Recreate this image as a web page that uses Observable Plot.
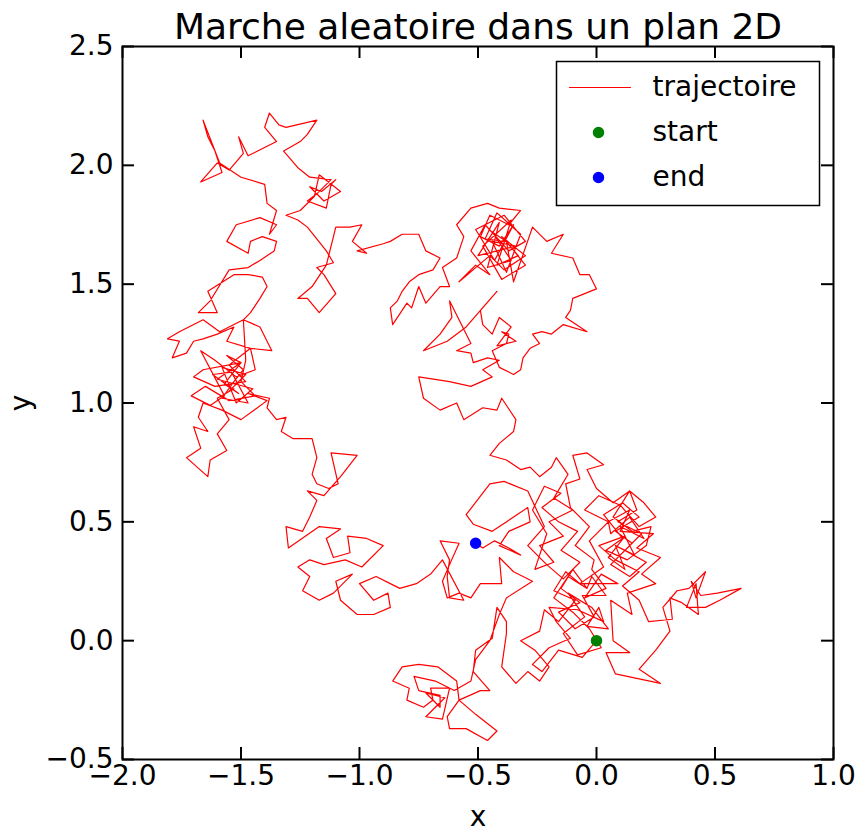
<!DOCTYPE html>
<html>
<head>
<meta charset="utf-8">
<script src="https://cdn.jsdelivr.net/npm/d3@7"></script>
<script src="https://cdn.jsdelivr.net/npm/@observablehq/plot@0.6"></script>
<style>
  body { margin: 0; background: #fff; }
</style>
</head>
<body>
<div id="chart"></div>
<script>
// Random walk, stored leg by leg; each leg continues where the previous one stops.
const legStart = [[0,0],[-0.06,-0.07],[-0.16,-0.04],[-0.23,-0.13],[-0.27,-0.10],[-0.20,-0.03],[-0.11,0.01],[-0.17,0.08],[-0.20,0.14],[-0.08,0.13],[0.03,0.08],[0.01,0.14],[-0.04,0.06],[0.05,0.05],[-0.02,0.14],[-0.12,0.20],[-0.05,0.10],[-0.14,0.03],[-0.08,-0.06],[0.02,-0.03],[-0.03,0.05],[-0.10,0.12],[-0.18,0.18],[-0.12,0.27],[-0.04,0.22],[-0.10,0.30],[-0.15,0.22],[-0.07,0.16],[-0.16,0.12],[-0.09,0.05],[-0.01,0.10],[-0.06,0.19],[0.04,0.19],[-0.02,0.27],[-0.04,0.22],[-0.07,0.24],[0.03,0.31],[-0.03,0.42],[0.05,0.50],[0.14,0.55],[0.10,0.46],[0.24,0.45],[0.17,0.39],[0.27,0.35],[0.19,0.28],[0.25,0.24],[0.13,0.20],[0.15,0.11],[0.06,0.17],[0.07,0.00],[0.14,-0.05],[0.04,-0.05],[0.08,-0.14],[0.27,-0.18],[0.18,-0.12],[0.25,-0.04],[0.31,0.04],[0.28,0.14]];
const legRightLobe = [[0.34,0.21],[0.39,0.22],[0.46,0.29],[0.42,0.18],[0.40,0.25],[0.44,0.19],[0.51,0.20],[0.61,0.22],[0.52,0.17],[0.46,0.14],[0.38,0.14],[0.42,0.24],[0.43,0.11],[0.36,0.16],[0.31,0.18],[0.32,0.09],[0.22,0.08],[0.18,0.17]];
const legRightCluster = [[0.11,0.23],[0.18,0.29],[0.08,0.34],[0.01,0.40],[0.12,0.44],[0.05,0.35],[0.12,0.30],[0.08,0.40],[0.16,0.36],[0.10,0.48],[0.20,0.43],[0.14,0.52],[0.06,0.45],[0.05,0.50],[-0.05,0.55],[0.01,0.61],[0.10,0.57],[0.18,0.48],[0.25,0.52],[0.20,0.58],[0.14,0.63],[0.17,0.55],[0.09,0.50],[0.19,0.45],[0.12,0.38],[0.21,0.33],[0.14,0.27],[0.06,0.32],[0.15,0.41],[0.08,0.46],[0.18,0.52],[0.11,0.58],[0.03,0.53],[0.11,0.43],[0.04,0.38],[0.13,0.34],[0.21,0.40],[0.23,0.48],[0.15,0.46],[0.07,0.52],[0.14,0.63],[0.07,0.58],[0.00,0.64],[-0.04,0.72],[0.03,0.74],[-0.04,0.79],[-0.10,0.78],[-0.07,0.68],[-0.13,0.66],[-0.11,0.56],[-0.03,0.48],[-0.09,0.40],[-0.01,0.34],[-0.02,0.30],[0.04,0.22],[-0.05,0.18],[0.02,0.28],[0.09,0.24],[-0.07,0.24],[-0.13,0.29],[-0.18,0.21],[-0.09,0.17],[-0.16,0.08],[-0.22,0.13],[-0.24,0.04],[-0.32,0.00],[-0.26,-0.04],[-0.20,-0.11],[-0.24,-0.17],[-0.29,-0.13],[-0.34,-0.18],[-0.40,-0.11]];
const legBottom = [[-0.38,0.03],[-0.38,0.08],[-0.42,0.14],[-0.44,0.01],[-0.51,-0.04],[-0.52,-0.13],[-0.45,-0.21],[-0.49,-0.21],[-0.58,-0.25],[-0.51,-0.31],[-0.42,-0.38],[-0.46,-0.42],[-0.55,-0.37],[-0.62,-0.37],[-0.63,-0.32],[-0.58,-0.25],[-0.59,-0.17],[-0.67,-0.11],[-0.75,-0.10],[-0.82,-0.11],[-0.86,-0.17],[-0.79,-0.20],[-0.80,-0.25],[-0.73,-0.28],[-0.69,-0.25],[-0.70,-0.20],[-0.62,-0.20],[-0.65,-0.33],[-0.72,-0.32],[-0.70,-0.30],[-0.64,-0.24],[-0.72,-0.22],[-0.66,-0.28],[-0.66,-0.23],[-0.75,-0.21],[-0.77,-0.15],[-0.68,-0.17],[-0.60,-0.21],[-0.53,-0.17],[-0.51,-0.08],[-0.45,0.00],[-0.41,0.11],[-0.38,0.18]];
const legMiddle = [[-0.27,0.25],[-0.35,0.29],[-0.41,0.35],[-0.40,0.24],[-0.49,0.24],[-0.53,0.18],[-0.58,0.20],[-0.63,0.18],[-0.65,0.25],[-0.62,0.32],[-0.58,0.41],[-0.66,0.42],[-0.62,0.34],[-0.63,0.27],[-0.62,0.18],[-0.56,0.17],[-0.65,0.34],[-0.70,0.28],[-0.76,0.24],[-0.83,0.22],[-0.87,0.24],[-0.93,0.27],[-1.00,0.24],[-0.94,0.17],[-0.88,0.20],[-0.87,0.14],[-0.94,0.11],[-1.01,0.11],[-1.08,0.17],[-1.10,0.25],[-1.03,0.28],[-1.11,0.20],[-1.17,0.17],[-1.24,0.21],[-1.21,0.27],[-1.26,0.31],[-1.21,0.34],[-1.15,0.32],[-1.06,0.34],[-0.99,0.31],[-0.90,0.40],[-0.97,0.43],[-1.05,0.44],[-1.04,0.37],[-1.11,0.35],[-1.14,0.43],[-1.08,0.47],[-1.17,0.48],[-1.30,0.39],[-1.31,0.48],[-1.24,0.46],[-1.21,0.52],[-1.18,0.59],[-1.22,0.63],[-1.15,0.61],[-1.08,0.69],[-1.01,0.78],[-1.12,0.79],[-1.09,0.66],[-1.13,0.64],[-1.18,0.66],[-1.20,0.70],[-1.18,0.77],[-1.20,0.85],[-1.28,0.85],[-1.33,0.88],[-1.31,0.94],[-1.35,0.93],[-1.39,0.98]];
const legLeftCluster = [[-1.38,1.02],[-1.47,1.04],[-1.39,1.01],[-1.50,0.93],[-1.58,0.97],[-1.66,1.00],[-1.68,0.94],[-1.64,0.88],[-1.70,0.90],[-1.67,0.81],[-1.73,0.77],[-1.64,0.69],[-1.63,0.76],[-1.56,0.80],[-1.60,0.87],[-1.55,0.93],[-1.60,1.02],[-1.53,1.06],[-1.55,1.05],[-1.48,1.12],[-1.58,1.15],[-1.52,1.00],[-1.45,1.06],[-1.60,1.10],[-1.50,1.17],[-1.57,1.08],[-1.51,1.04],[-1.62,1.12],[-1.54,1.13],[-1.47,1.00],[-1.58,1.02],[-1.53,1.09],[-1.49,1.14],[-1.56,1.20],[-1.50,1.17],[-1.66,1.14],[-1.70,1.11],[-1.61,1.07],[-1.48,1.09],[-1.55,1.16],[-1.46,1.23],[-1.56,1.26],[-1.53,1.32],[-1.60,1.29],[-1.66,1.27],[-1.70,1.26],[-1.73,1.21],[-1.79,1.19],[-1.76,1.26],[-1.81,1.27],[-1.76,1.30],[-1.66,1.35],[-1.59,1.30],[-1.49,1.35],[-1.42,1.32],[-1.37,1.22],[-1.46,1.23],[-1.44,1.14],[-1.52,1.11],[-1.61,1.18],[-1.67,1.22],[-1.57,1.03],[-1.63,0.99],[-1.71,1.03],[-1.65,1.07],[-1.55,1.01],[-1.44,1.03],[-1.50,1.09],[-1.48,1.18],[-1.49,1.35]];
const legTopLeft = [[-1.46,1.38],[-1.42,1.44],[-1.39,1.49],[-1.41,1.53],[-1.47,1.54],[-1.53,1.54],[-1.64,1.47],[-1.60,1.38],[-1.68,1.38],[-1.63,1.43],[-1.55,1.56],[-1.47,1.57],[-1.42,1.60],[-1.36,1.64],[-1.35,1.68],[-1.41,1.70],[-1.46,1.68],[-1.47,1.63],[-1.56,1.68],[-1.52,1.75],[-1.42,1.78],[-1.35,1.75],[-1.38,1.71],[-1.35,1.81],[-1.39,1.84],[-1.40,1.92],[-1.50,1.95],[-1.59,2.01],[-1.66,2.19],[-1.64,2.12],[-1.61,2.06],[-1.58,1.97],[-1.67,1.93],[-1.60,2.01],[-1.55,1.98],[-1.49,2.05],[-1.51,2.12],[-1.47,2.04],[-1.43,2.06],[-1.35,2.10],[-1.40,2.16],[-1.38,2.22],[-1.34,2.17],[-1.31,2.16],[-1.18,2.19],[-1.22,2.13],[-1.25,2.10],[-1.32,2.06],[-1.26,1.99],[-1.21,1.95],[-1.12,1.94],[-1.18,1.88],[-1.22,1.85],[-1.14,1.82],[-1.12,1.92],[-1.10,1.94],[-1.16,1.89],[-1.21,1.91],[-1.15,1.85],[-1.08,1.89],[-1.17,1.96],[-1.19,1.87],[-1.25,1.81],[-1.31,1.79],[-1.26,1.77],[-1.22,1.74],[-1.14,1.64],[-1.11,1.59],[-1.18,1.57],[-1.15,1.54],[-1.10,1.46],[-1.17,1.38],[-1.22,1.44],[-1.26,1.44],[-1.20,1.49],[-1.14,1.58],[-1.10,1.74],[-1.04,1.74],[-0.99,1.75],[-1.03,1.68],[-0.97,1.63],[-1.01,1.64],[-0.90,1.67],[-0.87,1.68],[-0.82,1.71],[-0.75,1.71]];
const legTopCenter = [[-0.72,1.64],[-0.66,1.61],[-0.69,1.56],[-0.75,1.54],[-0.79,1.51],[-0.82,1.47],[-0.84,1.43],[-0.87,1.40],[-0.86,1.33],[-0.80,1.42],[-0.78,1.40],[-0.75,1.49],[-0.72,1.42],[-0.66,1.49],[-0.62,1.49],[-0.65,1.57],[-0.59,1.61],[-0.56,1.70],[-0.59,1.75],[-0.53,1.82],[-0.46,1.84],[-0.41,1.82],[-0.32,1.81],[-0.37,1.75],[-0.45,1.79],[-0.49,1.70],[-0.41,1.66],[-0.35,1.75],[-0.43,1.60],[-0.51,1.73],[-0.39,1.79],[-0.30,1.68],[-0.37,1.64],[-0.47,1.75],[-0.53,1.64],[-0.45,1.54],[-0.51,1.58],[-0.58,1.51],[-0.45,1.62],[-0.39,1.56],[-0.30,1.62],[-0.40,1.70],[-0.33,1.62],[-0.42,1.58],[-0.36,1.77],[-0.48,1.66],[-0.40,1.52],[-0.30,1.58],[-0.38,1.68],[-0.44,1.72],[-0.36,1.60],[-0.46,1.57],[-0.41,1.76],[-0.50,1.62],[-0.34,1.66],[-0.44,1.68],[-0.38,1.55],[-0.32,1.71],[-0.42,1.80],[-0.47,1.69],[-0.38,1.68],[-0.35,1.51],[-0.27,1.74],[-0.21,1.68],[-0.14,1.71],[-0.19,1.63],[-0.10,1.61],[-0.07,1.54],[-0.03,1.54],[0.00,1.48],[-0.10,1.44],[-0.11,1.39],[-0.13,1.36],[-0.04,1.30],[-0.14,1.33],[-0.19,1.29],[-0.23,1.30],[-0.27,1.29],[-0.24,1.25],[-0.28,1.23],[-0.31,1.19],[-0.32,1.14],[-0.35,1.12],[-0.41,1.15],[-0.44,1.22],[-0.38,1.25],[-0.37,1.29],[-0.40,1.30],[-0.34,1.26],[-0.42,1.24],[-0.36,1.32],[-0.41,1.36],[-0.44,1.29],[-0.48,1.33],[-0.49,1.39],[-0.42,1.47],[-0.55,1.32],[-0.63,1.26],[-0.73,1.22],[-0.66,1.29],[-0.61,1.36],[-0.62,1.43],[-0.58,1.35],[-0.53,1.25],[-0.59,1.22],[-0.53,1.21],[-0.52,1.17],[-0.46,1.19],[-0.41,1.18],[-0.48,1.14],[-0.44,1.11],[-0.53,1.07],[-0.62,1.09],[-0.75,1.11],[-0.73,1.02],[-0.66,0.97],[-0.59,1.00],[-0.56,0.93],[-0.48,0.98],[-0.42,0.97],[-0.40,1.02],[-0.34,0.93],[-0.35,0.88],[-0.41,0.83]];
const legEnd = [[-0.45,0.78],[-0.38,0.76],[-0.32,0.72],[-0.28,0.73],[-0.24,0.69],[-0.19,0.73],[-0.17,0.77],[-0.12,0.70],[-0.18,0.60],[-0.10,0.55],[-0.20,0.50],[-0.14,0.44],[-0.24,0.40],[-0.18,0.33],[-0.26,0.30],[-0.21,0.45],[-0.27,0.55],[-0.22,0.65],[-0.15,0.62],[-0.23,0.56],[-0.16,0.50],[-0.08,0.46],[-0.15,0.38],[-0.07,0.33],[-0.14,0.26],[-0.21,0.32],[-0.29,0.40],[-0.22,0.48],[-0.29,0.63],[-0.39,0.67],[-0.45,0.66],[-0.55,0.53],[-0.52,0.49],[-0.44,0.46],[-0.29,0.56],[-0.28,0.50],[-0.37,0.46],[-0.41,0.40],[-0.32,0.36],[-0.37,0.39],[-0.43,0.42],[-0.48,0.39],[-0.51,0.41]];

const walk = [...legStart, ...legRightLobe, ...legRightCluster, ...legBottom, ...legMiddle,
              ...legLeftCluster, ...legTopLeft, ...legTopCenter, ...legEnd];
const startPoint = [walk[0]];
const endPoint = [walk[walk.length - 1]];

const xTicks = [-2, -1.5, -1, -0.5, 0, 0.5, 1];
const yTicks = [-0.5, 0, 0.5, 1, 1.5, 2, 2.5];
const titleText = "Marche aleatoire dans un plan 2D";
const legendLabels = ["trajectoire", "start", "end"];

// Layout
const W = 865, H = 832;
const mL = 122, mR = 32, mT = 46, mB = 73;
const FW = W - mL - mR, FH = H - mT - mB;
const tickLen = 12;
const fmt = d3.format(".1f");

// Legend rows: offsets from the top-left corner of the axes box
const legendRowTop = 41, legendRowGap = 45;
const legendSampleX = 476, legendTextX = 530;

// A plain straight segment for the legend's line sample
const segmentShape = { draw(context, l) { context.moveTo(0, 0); context.lineTo(0, -l); } };

const legendTextMark = (label, row) => Plot.text([label], {
  text: d => d, frameAnchor: "top-left", dx: legendTextX, dy: legendRowTop + row * legendRowGap,
  textAnchor: "start", lineAnchor: "middle", fontSize: 28
});

const chart = Plot.plot({
  width: W, height: H,
  marginLeft: mL, marginRight: mR, marginTop: mT, marginBottom: mB,
  x: { domain: [-2, 1] },
  y: { domain: [-0.5, 2.5] },
  style: { fontFamily: "'DejaVu Sans', sans-serif", fontSize: "28px", background: "#fff", color: "#000" },
  marks: [
    Plot.line(walk, { x: d => d[0], y: d => d[1], stroke: "#ff0000", strokeWidth: 1.2 }),
    Plot.dot(startPoint, { x: d => d[0], y: d => d[1], r: 5, fill: "#008000", stroke: "#008000" }),
    Plot.dot(endPoint, { x: d => d[0], y: d => d[1], r: 5, fill: "#0000ff", stroke: "#0000ff" }),

    // inward ticks on all four sides
    Plot.tickX(xTicks, { x: d => d, insetTop: FH - tickLen, stroke: "#000", strokeWidth: 2 }),
    Plot.tickX(xTicks, { x: d => d, insetBottom: FH - tickLen, stroke: "#000", strokeWidth: 2 }),
    Plot.tickY(yTicks, { y: d => d, insetRight: FW - tickLen, stroke: "#000", strokeWidth: 2 }),
    Plot.tickY(yTicks, { y: d => d, insetLeft: FW - tickLen, stroke: "#000", strokeWidth: 2 }),

    Plot.axisX(xTicks, { anchor: "bottom", tickSize: 0, tickPadding: 6, tickFormat: fmt, fontSize: 28,
      label: "x", labelAnchor: "center", labelOffset: 66, labelArrow: "none" }),
    Plot.axisY(yTicks, { anchor: "left", tickSize: 0, tickPadding: 9, tickFormat: fmt, fontSize: 28,
      label: "y", labelAnchor: "center", labelOffset: 112, labelArrow: "none" }),
    Plot.frame({ stroke: "#000", strokeWidth: 2 }),

    // title
    Plot.text([titleText], { text: d => d, frameAnchor: "top", lineAnchor: "bottom", dy: -8, fontSize: 36 }),

    // legend
    Plot.frame({ insetLeft: 434, insetTop: 15, insetRight: 14, insetBottom: 554, fill: "#fff", stroke: "#000", strokeWidth: 1.5 }),
    Plot.vector([legendLabels[0]], { frameAnchor: "top-left", dx: 447, dy: legendRowTop, rotate: 90, length: 61, anchor: "start",
      shape: segmentShape, stroke: "#ff0000", strokeWidth: 1.2 }),
    Plot.dot([legendLabels[1]], { frameAnchor: "top-left", dx: legendSampleX, dy: legendRowTop + legendRowGap, r: 5, fill: "#008000", stroke: "#008000" }),
    Plot.dot([legendLabels[2]], { frameAnchor: "top-left", dx: legendSampleX, dy: legendRowTop + 2 * legendRowGap, r: 5, fill: "#0000ff", stroke: "#0000ff" }),
    legendTextMark(legendLabels[0], 0),
    legendTextMark(legendLabels[1], 1),
    legendTextMark(legendLabels[2], 2)
  ]
});
document.getElementById("chart").append(chart);
</script>
</body>
</html>
